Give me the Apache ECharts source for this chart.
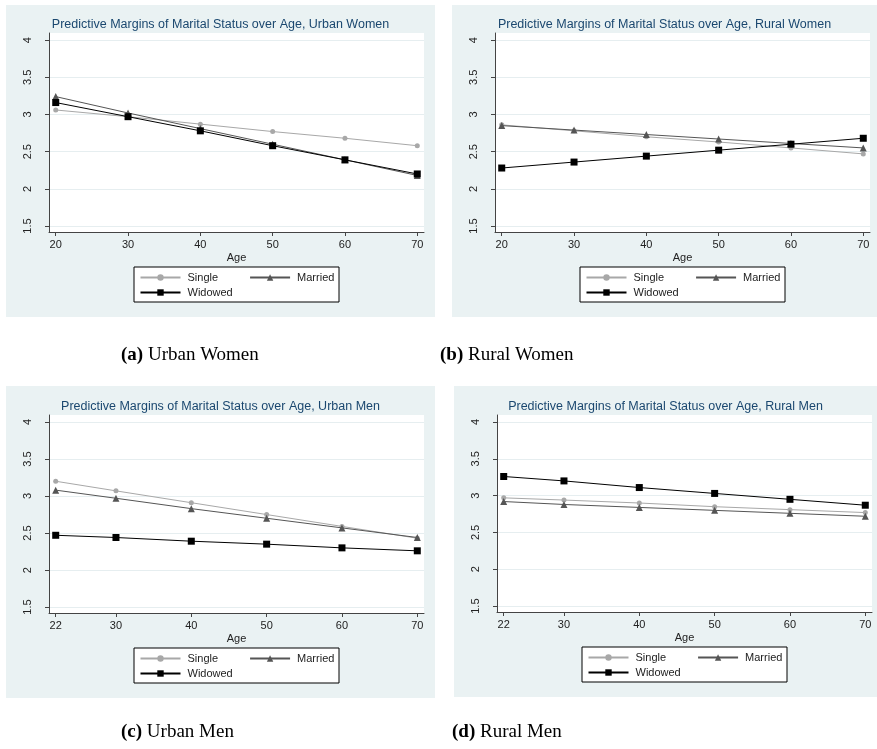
<!DOCTYPE html>
<html>
<head>
<meta charset="utf-8" />
<title>Predictive Margins of Marital Status over Age</title>
<script src="https://cdn.jsdelivr.net/npm/echarts@6/dist/echarts.min.js"></script>
<style>
  html, body { margin: 0; padding: 0; background: #fff; }
  #main { width: 877px; height: 749px; }
</style>
</head>
<body>
<div id="main"></div>
<script>
// ages on the x axis
const agesWomen = [20, 30, 40, 50, 60, 70];
const agesMen = [22, 30, 40, 50, 60, 70];
const yTicks = [1.5, 2, 2.5, 3, 3.5, 4];

// panel titles and captions
const panelTitles = [
  'Predictive Margins of Marital Status over Age, Urban Women',
  'Predictive Margins of Marital Status over Age, Rural Women',
  'Predictive Margins of Marital Status over Age, Urban Men',
  'Predictive Margins of Marital Status over Age, Rural Men'
];
const captionTags = ['(a)', '(b)', '(c)', '(d)'];
const captionNames = ['Urban Women', 'Rural Women', 'Urban Men', 'Rural Men'];
const seriesNames = ['Single', 'Married', 'Widowed'];

// (a) urban women
const urbanWomenSingle = [3.06, 2.97, 2.87, 2.77, 2.68, 2.58];
const urbanWomenMarried = [3.24, 3.02, 2.81, 2.60, 2.39, 2.18];
const urbanWomenWidowed = [3.16, 2.97, 2.78, 2.58, 2.39, 2.20];
// (b) rural women
const ruralWomenSingle = [2.86, 2.78, 2.70, 2.63, 2.55, 2.47];
const ruralWomenMarried = [2.85, 2.79, 2.73, 2.67, 2.61, 2.55];
const ruralWomenWidowed = [2.28, 2.36, 2.44, 2.52, 2.60, 2.68];
// (c) urban men
const urbanMenSingle = [3.20, 3.07, 2.91, 2.75, 2.59, 2.43];
const urbanMenMarried = [3.08, 2.97, 2.83, 2.70, 2.57, 2.44];
const urbanMenWidowed = [2.47, 2.44, 2.39, 2.35, 2.30, 2.26];
// (d) rural men
const ruralMenSingle = [2.97, 2.94, 2.90, 2.85, 2.81, 2.77];
const ruralMenMarried = [2.92, 2.88, 2.84, 2.80, 2.76, 2.72];
const ruralMenWidowed = [3.26, 3.20, 3.11, 3.03, 2.95, 2.87];

const panelAges = [agesWomen, agesWomen, agesMen, agesMen];
const panelValues = [
  [urbanWomenSingle, urbanWomenMarried, urbanWomenWidowed],
  [ruralWomenSingle, ruralWomenMarried, ruralWomenWidowed],
  [urbanMenSingle, urbanMenMarried, urbanMenWidowed],
  [ruralMenSingle, ruralMenMarried, ruralMenWidowed]
];

// layout of the four panels
const panels = [
  { bx: 6,   by: 5,   bw: 429, bh: 312, gl: 49,  gt: 33,  gw: 375, gh: 199, xmin: 19.07, xmax: 70.93, capY: 346 },
  { bx: 452, by: 5,   bw: 425, bh: 312, gl: 495, gt: 33,  gw: 375, gh: 199, xmin: 19.07, xmax: 70.93, capY: 346 },
  { bx: 6,   by: 386, bw: 429, bh: 312, gl: 49,  gt: 415, gw: 375, gh: 198, xmin: 21.11, xmax: 70.89, capY: 723 },
  { bx: 454, by: 386, bw: 423, bh: 311, gl: 497, gt: 415, gw: 375, gh: 197, xmin: 21.11, xmax: 70.89, capY: 723 }
];
const captionX = [121, 440, 121, 452];

const lineColors = ['#a8a8a8', '#555555', '#000000'];
const symbols = ['circle', 'triangle', 'rect'];
const symbolSizes = [5, 7, 7];
const bgColor = '#eaf2f3';
const titleColor = '#1a476f';
const font = 'Liberation Sans, Arial, sans-serif';
const serif = 'Liberation Serif, Times New Roman, serif';

const chart = echarts.init(document.getElementById('main'));

const grids = [], xAxes = [], yAxes = [], series = [], titles = [], legends = [], graphics = [];

panels.forEach(function (p, i) {
  // panel background
  graphics.push({
    type: 'rect', z: -10, silent: true,
    shape: { x: p.bx, y: p.by, width: p.bw, height: p.bh },
    style: { fill: bgColor }
  });
  grids.push({
    left: p.gl, top: p.gt, width: p.gw, height: p.gh,
    show: true, backgroundColor: '#ffffff', borderWidth: 0
  });
  xAxes.push({
    type: 'value', gridIndex: i, min: p.xmin, max: p.xmax,
    name: 'Age', nameLocation: 'middle', nameGap: 20,
    nameTextStyle: { fontFamily: font, fontSize: 11, color: '#222' },
    axisLine: { show: true, lineStyle: { color: '#444', width: 1 } },
    axisTick: { show: true, length: 4, customValues: panelAges[i], lineStyle: { color: '#444' } },
    axisLabel: { customValues: panelAges[i], margin: 7, fontFamily: font, fontSize: 11, color: '#222' },
    splitLine: { show: false }
  });
  yAxes.push({
    type: 'value', gridIndex: i, min: 1.42, max: 4.095,
    axisLine: { show: true, lineStyle: { color: '#444', width: 1 } },
    axisTick: { show: true, length: 4, customValues: yTicks, lineStyle: { color: '#444' } },
    axisLabel: { customValues: yTicks, rotate: 90, margin: 16, fontFamily: font, fontSize: 11, color: '#222' },
    splitLine: { show: true, lineStyle: { color: '#e6eef0', width: 1 } }
  });
  seriesNames.forEach(function (name, k) {
    series.push({
      name: name, type: 'line', xAxisIndex: i, yAxisIndex: i,
      data: panelAges[i].map(function (a, j) { return [a, panelValues[i][k][j]]; }),
      symbol: symbols[k], symbolSize: symbolSizes[k], showAllSymbol: true,
      lineStyle: { color: lineColors[k], width: 1 },
      itemStyle: { color: lineColors[k] },
      z: 2 + k, animation: false
    });
  });
  titles.push({
    text: panelTitles[i], left: p.bx + p.bw / 2, top: p.gt - 15, textAlign: 'center', padding: 0,
    textStyle: { fontFamily: font, fontSize: 12.5, fontWeight: 'normal', color: titleColor }
  });
  titles.push({
    text: '{b|' + captionTags[i] + '} ' + captionNames[i], left: captionX[i], top: p.capY, padding: 0,
    textStyle: {
      fontFamily: serif, fontSize: 19, fontWeight: 'normal', color: '#000',
      rich: { b: { fontFamily: serif, fontSize: 19, fontWeight: 'bold', color: '#000' } }
    }
  });
  // legend box
  const cx = p.gl + p.gw / 2;
  const ly = p.gt + p.gh + 35;
  graphics.push({
    type: 'rect', z: 5, silent: true,
    shape: { x: cx - 102.5, y: ly, width: 205, height: 35 },
    style: { fill: '#ffffff', stroke: '#000', lineWidth: 1 }
  });
  const legendBase = {
    orient: 'horizontal', itemWidth: 40, itemHeight: 8, itemGap: 31, padding: 0, z: 10,
    textStyle: { fontFamily: font, fontSize: 11, color: '#222', padding: [0, 0, 0, 2] },
    selectedMode: false
  };
  legends.push(Object.assign({}, legendBase, { data: ['Single', 'Married'], left: cx - 97, top: ly + 5 }));
  legends.push(Object.assign({}, legendBase, { data: ['Widowed'], left: cx - 97, top: ly + 20 }));
});

chart.setOption({
  animation: false,
  backgroundColor: '#ffffff',
  title: titles,
  legend: legends,
  grid: grids,
  xAxis: xAxes,
  yAxis: yAxes,
  series: series,
  graphic: graphics
});
</script>
</body>
</html>
